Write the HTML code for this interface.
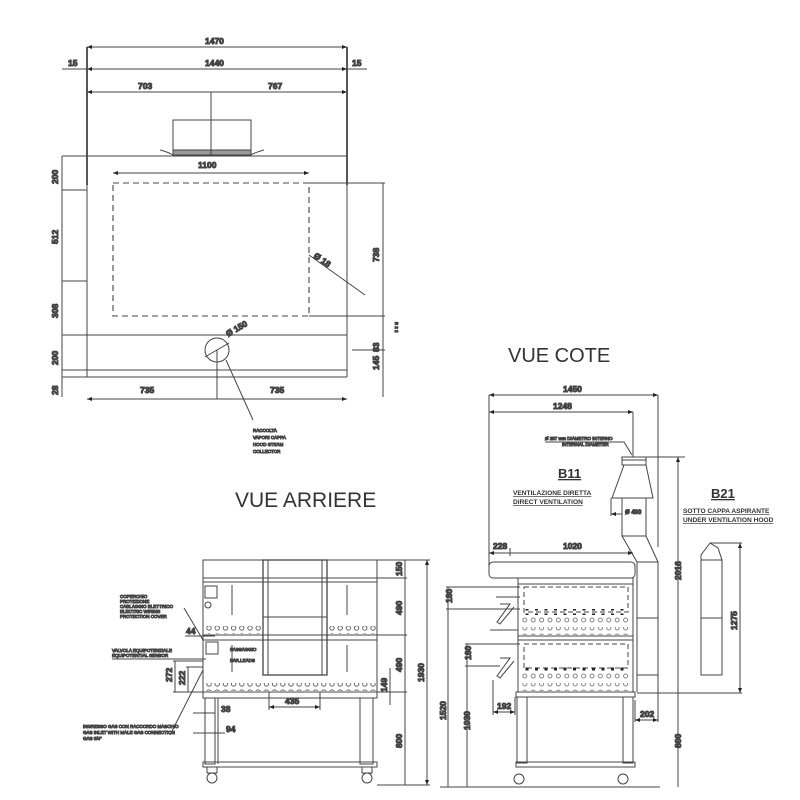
<!DOCTYPE html>
<html><head><meta charset="utf-8"><style>
html,body{margin:0;padding:0;background:#fff}
svg{display:block}
text{font-family:"Liberation Sans",sans-serif;fill:#333}
.d{font-size:8.5px;font-weight:bold}
.s{font-size:4.5px}
</style></head><body>
<svg width="800" height="800" viewBox="0 0 800 800" xmlns="http://www.w3.org/2000/svg" stroke="#444" fill="none" stroke-width="1">
<defs>
<marker id="a" viewBox="0 0 10 10" refX="10" refY="5" markerWidth="7" markerHeight="5" markerUnits="userSpaceOnUse" orient="auto-start-reverse"><path d="M0,1L10,5L0,9z" fill="#222" stroke="none"/></marker>
<pattern id="holes" width="8.2" height="8" patternUnits="userSpaceOnUse"><circle cx="4" cy="4" r="2.2" fill="none" stroke="#555" stroke-width="0.9"/></pattern>
<pattern id="holes2" width="8.4" height="8" patternUnits="userSpaceOnUse"><circle cx="4" cy="4" r="2" fill="none" stroke="#666" stroke-width="0.8"/></pattern>
<pattern id="sq" width="9.5" height="6" patternUnits="userSpaceOnUse"><rect x="3" y="1.5" width="3" height="3" fill="#222" stroke="none"/></pattern>
</defs>

<!-- ===== TOP VIEW ===== -->
<g>
<line x1="87" y1="47" x2="347" y2="47" marker-start="url(#a)" marker-end="url(#a)"/>
<text class="d" x="205" y="44">1470</text>
<line x1="62" y1="69" x2="367" y2="69"/>
<line x1="87" y1="69" x2="347" y2="69" marker-start="url(#a)" marker-end="url(#a)"/>
<text class="d" x="205" y="66">1440</text>
<text class="d" x="68" y="66">15</text><text class="d" x="352" y="66">15</text>
<line x1="87" y1="92" x2="347" y2="92" marker-start="url(#a)" marker-end="url(#a)"/>
<text class="d" x="138" y="89">703</text><text class="d" x="268" y="89">767</text>
<line x1="87" y1="47" x2="87" y2="185" stroke-width="1.8"/>
<line x1="347" y1="47" x2="347" y2="185" stroke-width="1.8"/>
<rect x="173" y="120" width="78" height="35" stroke-width="1"/>
<rect x="173" y="150" width="78" height="5" fill="#999"/>
<line x1="211" y1="92" x2="211" y2="155"/>
<path d="M160,150q8,2 13,5M264,150q-8,2 -13,5"/>
<line x1="62" y1="156" x2="347" y2="156"/>
<line x1="87" y1="156" x2="87" y2="377"/>
<line x1="347" y1="156" x2="347" y2="377"/>
<line x1="62" y1="335" x2="347" y2="335"/>
<line x1="62" y1="370" x2="347" y2="370"/>
<line x1="62" y1="377" x2="347" y2="377"/>
<line x1="62" y1="190" x2="87" y2="190"/>
<line x1="62" y1="281" x2="87" y2="281"/>
<rect x="113" y="183" width="196" height="133" stroke-dasharray="6,4" stroke-width="1.1"/>
<line x1="113" y1="173" x2="309" y2="173" marker-start="url(#a)" marker-end="url(#a)"/>
<text class="d" x="198" y="168">1100</text>
<line x1="62" y1="156" x2="62" y2="397"/>
<g transform="translate(58,0)">
<text class="d" transform="translate(0,184) rotate(-90)">200</text>
<text class="d" transform="translate(0,244) rotate(-90)">512</text>
<text class="d" transform="translate(0,318) rotate(-90)">308</text>
<text class="d" transform="translate(0,365) rotate(-90)">200</text>
<text class="d" transform="translate(0,395) rotate(-90)">28</text>
</g>
<line x1="309" y1="183" x2="385" y2="183"/>
<line x1="309" y1="316" x2="385" y2="316"/>
<line x1="352" y1="350" x2="385" y2="350"/>
<line x1="383" y1="183" x2="383" y2="397"/>
<text class="d" transform="translate(379,262) rotate(-90)">738</text>
<text class="d" transform="translate(379,370) rotate(-90)">145</text>
<text class="d" transform="translate(379,352) rotate(-90)">83</text>
<text class="s" transform="translate(395,322) rotate(90)">B 2 2</text>
<line x1="309" y1="255" x2="365" y2="295" stroke-width="1"/>
<text class="d" transform="translate(313,257) rotate(35)">Ø 18</text>
<circle cx="217" cy="350" r="12"/>
<line x1="205" y1="357" x2="229" y2="343"/>
<text class="d" transform="translate(228,337) rotate(-30)">Ø 150</text>
<line x1="217" y1="350" x2="217" y2="399"/>
<line x1="87" y1="399" x2="347" y2="399" marker-start="url(#a)" marker-end="url(#a)"/>
<text class="d" x="140" y="393">735</text><text class="d" x="270" y="393">735</text>
<line x1="226" y1="360" x2="253" y2="420"/>
<text class="s" x="253" y="432">RACCOLTA</text>
<text class="s" x="253" y="439">VAPORI CAPPA</text>
<text class="s" x="253" y="446">HOOD STEAM</text>
<text class="s" x="253" y="453">COLLECTOR</text>
</g>

<text x="235" y="507" style="font-size:21px" stroke="none" fill="#222">VUE ARRIERE</text>
<text x="508" y="362" style="font-size:20px" stroke="none" fill="#222">VUE COTE</text>

<!-- ===== REAR VIEW ===== -->
<g>
<rect x="203" y="560" width="174" height="132"/>
<line x1="203" y1="578" x2="377" y2="578"/>
<line x1="203" y1="582" x2="377" y2="582"/>
<line x1="203" y1="635" x2="377" y2="635"/>
<line x1="203" y1="640" x2="377" y2="640"/>
<rect x="263" y="560" width="64" height="115" stroke-width="1.3"/>
<line x1="268" y1="560" x2="268" y2="675"/><line x1="322" y1="560" x2="322" y2="675"/>
<line x1="263" y1="617" x2="327" y2="617"/>
<line x1="232" y1="585" x2="232" y2="615"/><line x1="347" y1="585" x2="347" y2="615"/>
<line x1="232" y1="645" x2="232" y2="672"/><line x1="347" y1="645" x2="347" y2="672"/>
<rect x="205" y="586" width="12" height="12"/>
<circle cx="208" cy="605" r="3"/>
<rect x="206" y="642" width="12" height="12"/>
<rect x="206" y="626" width="57" height="8" fill="url(#holes)" stroke="none"/>
<rect x="329" y="626" width="48" height="8" fill="url(#holes)" stroke="none"/>
<rect x="206" y="683" width="171" height="8" fill="url(#holes)" stroke="none"/>
<rect x="203" y="692" width="174" height="6"/>
<rect x="205" y="698" width="10" height="66"/><rect x="360" y="698" width="13" height="66"/>
<line x1="218" y1="698" x2="218" y2="764"/>
<rect x="203" y="762" width="174" height="5"/>
<circle cx="212" cy="778" r="5"/><circle cx="367" cy="778" r="5"/>
<rect x="207" y="767" width="10" height="6"/><rect x="362" y="767" width="10" height="6"/>
<line x1="377" y1="560" x2="430" y2="560"/>
<line x1="377" y1="578" x2="407" y2="578"/>
<line x1="377" y1="635" x2="407" y2="635"/>
<line x1="377" y1="692" x2="407" y2="692"/>
<line x1="377" y1="785" x2="430" y2="785"/>
<line x1="405" y1="560" x2="405" y2="785"/>
<line x1="427" y1="560" x2="427" y2="785" marker-start="url(#a)" marker-end="url(#a)"/>
<text class="d" transform="translate(402,576) rotate(-90)">150</text>
<text class="d" transform="translate(402,615) rotate(-90)">490</text>
<text class="d" transform="translate(402,672) rotate(-90)">490</text>
<text class="d" transform="translate(402,748) rotate(-90)">800</text>
<text class="d" transform="translate(424,682) rotate(-90)">1930</text>
<line x1="390" y1="668" x2="390" y2="705"/>
<text class="d" transform="translate(387,692) rotate(-90)">149</text>
<line x1="269" y1="692" x2="269" y2="710"/><line x1="320" y1="692" x2="320" y2="710"/>
<line x1="269" y1="707" x2="320" y2="707" marker-start="url(#a)" marker-end="url(#a)"/>
<text class="d" x="285" y="704">435</text>
<line x1="173" y1="661" x2="203" y2="661"/><line x1="173" y1="692" x2="203" y2="692"/>
<line x1="175" y1="661" x2="175" y2="692"/>
<text class="d" transform="translate(172,682) rotate(-90)">272</text>
<line x1="186" y1="667" x2="203" y2="667"/>
<line x1="188" y1="667" x2="188" y2="692"/>
<text class="d" transform="translate(185,685) rotate(-90)">222</text>
<line x1="185" y1="636" x2="215" y2="636"/>
<text class="d" x="186" y="634">44</text>
<line x1="193" y1="713" x2="215" y2="713"/><text class="d" x="221" y="712">38</text>
<line x1="193" y1="733" x2="225" y2="733"/><text class="d" x="226" y="732">94</text>
<line x1="184" y1="608" x2="203" y2="640"/>
<text class="s" x="120" y="598">COPERCHIO</text>
<text class="s" x="120" y="603">PROTEZIONE</text>
<text class="s" x="120" y="608">CABLAGGIO ELETTRICO</text>
<text class="s" x="120" y="613">ELECTRIC WIRING</text>
<text class="s" x="120" y="618">PROTECTION COVER</text>
<text class="s" x="112" y="652">VALVOLA EQUIPOTENZIALE</text>
<text class="s" x="112" y="657">EQUIPOTENTIAL SENSOR</text>
<line x1="112" y1="659" x2="206" y2="659"/>
<text class="s" x="83" y="728">INGRESSO GAS CON RACCORDO MASCHIO</text>
<text class="s" x="83" y="734">GAS INLET WITH MALE GAS CONNECTION</text>
<text class="s" x="83" y="740">GAS 3/4"</text>
<path d="M170,735L203,670"/>
<text class="s" x="230" y="651">PASSAGGIO</text><text class="s" x="230" y="662">PAR.LEADS</text>
</g>

<!-- ===== SIDE VIEW ===== -->
<g>
<line x1="489" y1="395" x2="658" y2="395" marker-start="url(#a)" marker-end="url(#a)"/>
<text class="d" x="563" y="392">1450</text>
<line x1="489" y1="412" x2="633" y2="412" marker-start="url(#a)" marker-end="url(#a)"/>
<text class="d" x="553" y="409">1248</text>
<line x1="489" y1="395" x2="489" y2="567"/>
<line x1="658" y1="395" x2="658" y2="547"/>
<line x1="633" y1="412" x2="633" y2="457"/>
<text class="s" x="545" y="440">Ø 257 mm DIAMETRO INTERNO</text>
<text class="s" x="562" y="446">INTERNAL DIAMETER</text>
<path d="M545,442H624L632,455"/>
<rect x="622" y="457" width="24" height="8"/>
<line x1="622" y1="460" x2="646" y2="460"/>
<path d="M624,465L612,498H653L646,465"/>
<rect x="622" y="498" width="24" height="38"/>
<line x1="611" y1="498" x2="611" y2="516"/>
<line x1="611" y1="514" x2="622" y2="514" marker-start="url(#a)"/>
<text class="d" style="font-size:6px" x="625" y="514">Ø 400</text>
<path d="M622,536L637,562H658L646,536"/>
<line x1="646" y1="457" x2="685" y2="457"/>
<rect x="637" y="562" width="21" height="113"/>
<line x1="637" y1="618" x2="658" y2="618"/>
<text x="558" y="478" style="font-size:13px;font-weight:bold;text-decoration:underline" stroke="none" fill="#333">B11</text>
<text x="513" y="495" style="font-size:6.6px;font-weight:bold;text-decoration:underline" stroke="none" fill="#333">VENTILAZIONE DIRETTA</text>
<text x="513" y="504" style="font-size:6.6px;font-weight:bold;text-decoration:underline" stroke="none" fill="#333">DIRECT VENTILATION</text>
<text x="711" y="498" style="font-size:13px;font-weight:bold;text-decoration:underline" stroke="none" fill="#333">B21</text>
<text x="683" y="513" style="font-size:6.6px;font-weight:bold;text-decoration:underline" stroke="none" fill="#333">SOTTO CAPPA ASPIRANTE</text>
<text x="683" y="522" style="font-size:6.6px;font-weight:bold;text-decoration:underline" stroke="none" fill="#333">UNDER VENTILATION HOOD</text>
<line x1="489" y1="553" x2="633" y2="553" marker-start="url(#a)" marker-end="url(#a)"/>
<line x1="510" y1="548" x2="510" y2="556"/>
<text class="d" x="493" y="549">228</text><text class="d" x="563" y="549">1020</text>
<rect x="489" y="562" width="146" height="16" rx="4"/>
<rect x="518" y="578" width="115" height="114"/>
<line x1="518" y1="584" x2="633" y2="584"/>
<rect x="524" y="587" width="104" height="25" stroke-dasharray="5,3"/>
<rect x="520" y="609" width="110" height="6" fill="url(#sq)" stroke="none"/>
<rect x="520" y="615" width="110" height="8" fill="url(#holes2)" stroke="none"/>
<rect x="520" y="627" width="110" height="8" fill="url(#holes2)" stroke="none"/>
<line x1="518" y1="636" x2="633" y2="636"/><line x1="518" y1="640" x2="633" y2="640"/>
<rect x="524" y="644" width="104" height="24" stroke-dasharray="5,3"/>
<rect x="520" y="665" width="110" height="6" fill="url(#sq)" stroke="none"/>
<rect x="520" y="671" width="110" height="8" fill="url(#holes2)" stroke="none"/>
<rect x="520" y="683" width="110" height="8" fill="url(#holes2)" stroke="none"/>
<rect x="516" y="692" width="119" height="5"/>
<line x1="633" y1="584" x2="633" y2="692"/><line x1="637" y1="584" x2="637" y2="692"/>
<rect x="517" y="697" width="10" height="66"/><rect x="623" y="697" width="10" height="66"/>
<rect x="516" y="762" width="119" height="5"/>
<circle cx="519" cy="779" r="5"/><circle cx="623" cy="779" r="5"/>
<path d="M496,597L520,597M500,604L510,604L497,622L500,624L514,607"/>
<path d="M490,630L518,630M500,658L510,658L497,676L500,678L514,661"/>
<line x1="446" y1="587" x2="520" y2="587"/>
<line x1="446" y1="609" x2="520" y2="609"/>
<line x1="448" y1="587" x2="448" y2="787"/>
<text class="d" transform="translate(452,603) rotate(-90)">180</text>
<text class="d" transform="translate(446,720) rotate(-90)">1520</text>
<line x1="465" y1="644" x2="520" y2="644"/>
<line x1="465" y1="666" x2="500" y2="666"/>
<line x1="467" y1="644" x2="467" y2="787"/>
<text class="d" transform="translate(471,660) rotate(-90)">180</text>
<text class="d" transform="translate(470,730) rotate(-90)">1030</text>
<line x1="440" y1="787" x2="660" y2="787"/>
<line x1="493" y1="680" x2="493" y2="715"/><line x1="515" y1="697" x2="515" y2="715"/>
<line x1="493" y1="712" x2="515" y2="712" marker-start="url(#a)" marker-end="url(#a)"/><text class="d" x="497" y="709">192</text>
<line x1="635" y1="700" x2="635" y2="722"/><line x1="658" y1="675" x2="658" y2="722"/>
<line x1="635" y1="720" x2="658" y2="720" marker-start="url(#a)" marker-end="url(#a)"/><text class="d" x="640" y="717">202</text>
<line x1="678" y1="457" x2="678" y2="787" marker-start="url(#a)"/>
<line x1="637" y1="693" x2="742" y2="693"/>
<text class="d" transform="translate(681,580) rotate(-90)">2016</text>
<text class="d" transform="translate(681,748) rotate(-90)">800</text>
<rect x="701" y="560" width="21" height="115"/>
<line x1="701" y1="618" x2="722" y2="618"/>
<path d="M701,560V555L710,543L718,548L722,560"/>
<line x1="710" y1="543" x2="742" y2="543"/>
<line x1="740" y1="543" x2="740" y2="693" marker-start="url(#a)" marker-end="url(#a)"/>
<text class="d" transform="translate(737,630) rotate(-90)">1275</text>
</g>
</svg>
</body></html>
